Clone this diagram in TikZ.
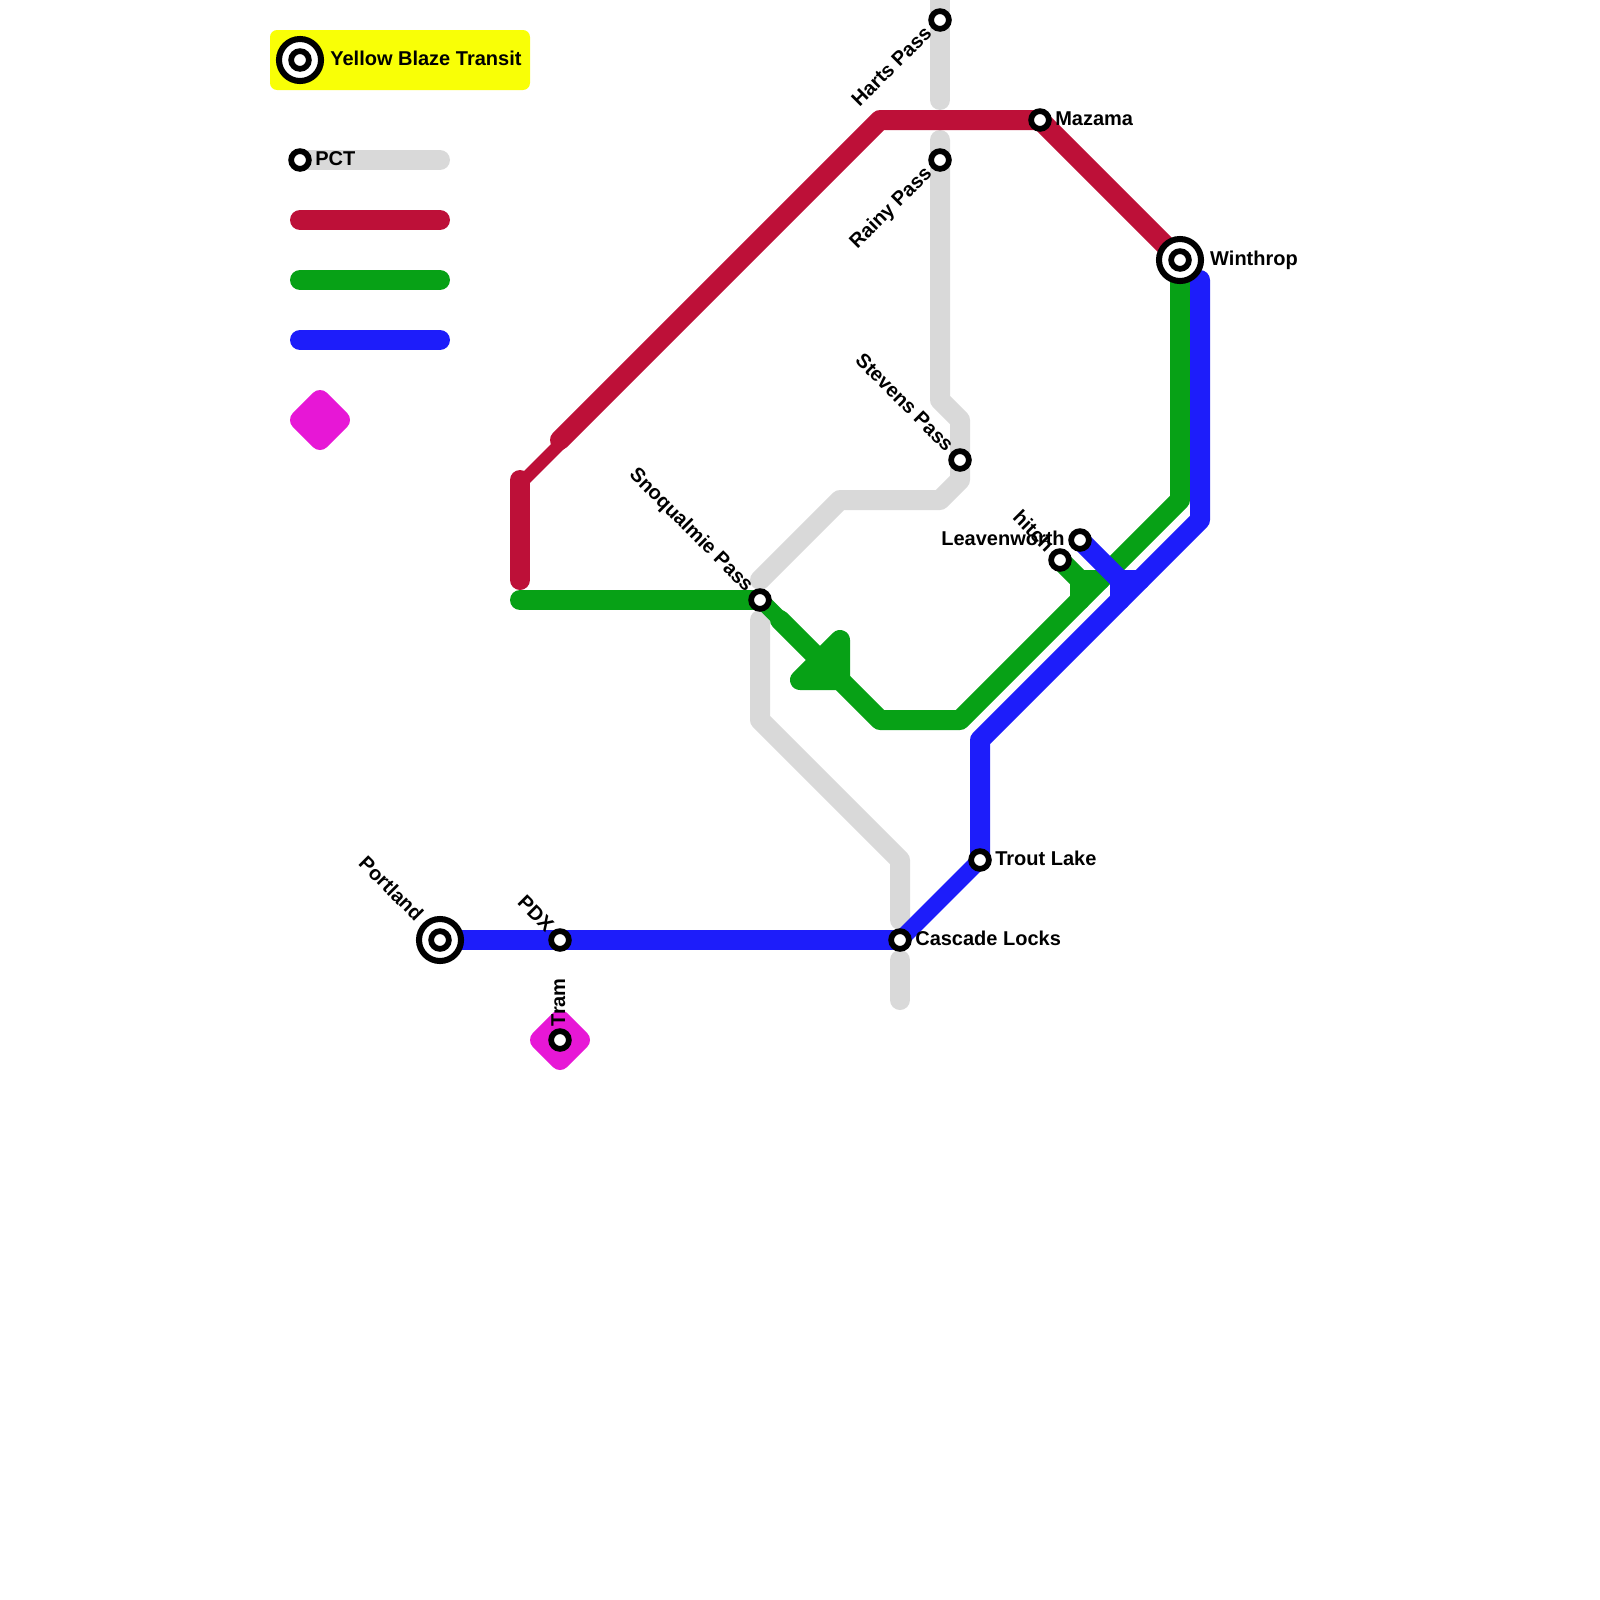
\documentclass[tikz,border=0pt]{standalone}
\usepackage{fontspec}
\setmainfont{Liberation Sans}
\definecolor{PCTgray}{HTML}{D9D9D9}
\definecolor{TransitRed}{HTML}{BD1038}
\definecolor{TransitGreen}{HTML}{07A116}
\definecolor{TransitBlue}{HTML}{1D1DFA}
\definecolor{TramPink}{HTML}{E717D6}
\definecolor{BlazeYellow}{HTML}{F9FF06}
\pgfdeclarelayer{front}
\pgfsetlayers{main,front}

\begin{document}
\begin{tikzpicture}[x=0.5cm, y=-0.5cm,
      route/.style={line width=14.22pt, line cap=round, line join=round},
      routethin/.style={line width=#1, line cap=round},
      zone/.style={route, fill},
      stop/.style={circle, draw=black, fill=white, line width=4.1pt, minimum size=12.6pt, inner sep=0pt},
      hub/.style={circle, draw=black, fill=white, line width=4.3pt, minimum size=29.9pt, inner sep=0pt},
      stoplabel/.style={font=\fontsize{14.22}{16}\selectfont\bfseries, inner sep=0pt},
      after/.style={stoplabel, anchor=base west, xshift=10.7pt, yshift=-3.6pt},
      before/.style={stoplabel, anchor=base east, xshift=-10.7pt, yshift=-3.6pt},
      afterhub/.style={stoplabel, anchor=base west, xshift=21.3pt, yshift=-3.6pt},
      beforehub/.style={stoplabel, anchor=base east, xshift=-21.3pt, yshift=-3.6pt}]
   \useasboundingbox (0,0) rectangle (80,80);

   % Stations sit above every route
   \begin{pgfonlayer}{front}
      \node[hub] (blazeouter) at (15,3) {};
      \node[stop] (blaze) at (15,3) {};
      \node[stop] (legendpct) at (15,8) {};
      \node[stop] (harts) at (47,1) {};
      \node[stop] (rainy) at (47,8) {};
      \node[stop] (mazama) at (52,6) {};
      \node[hub] (winthropouter) at (59,13) {};
      \node[stop] (winthrop) at (59,13) {};
      \node[stop] (stevens) at (48,23) {};
      \node[stop] (leavenworth) at (54,27) {};
      \node[stop] (hitch) at (53,28) {};
      \node[stop] (snoqualmie) at (38,30) {};
      \node[stop] (trout) at (49,43) {};
      \node[stop] (cascade) at (45,47) {};
      \node[hub] (portlandouter) at (22,47) {};
      \node[stop] (portland) at (22,47) {};
      \node[stop] (pdx) at (28,47) {};
      \node[stop] (tram) at (28,52) {};

      % Labels
      \node[after, xshift=10.7pt] (blazelabel) at (blaze.center) {Yellow Blaze Transit};
      \node[after] (pctlabel) at (legendpct.center) {PCT};
      \node[after] (mazamalabel) at (mazama.center) {Mazama};
      \node[afterhub] (winthroplabel) at (winthrop.center) {Winthrop};
      \node[after] (troutlabel) at (trout.center) {Trout Lake};
      \node[after] (cascadelabel) at (cascade.center) {Cascade Locks};
      \node[before] (leavenworthlabel) at (leavenworth.center) {Leavenworth};
      \node[rotate=45, before] (hartslabel) at (harts.center) {Harts Pass};
      \node[rotate=45, before] (rainylabel) at (rainy.center) {Rainy Pass};
      \node[rotate=-45, before] (stevenslabel) at (stevens.center) {Stevens Pass};
      \node[rotate=-45, before] (snoqualmielabel) at (snoqualmie.center) {Snoqualmie Pass};
      \node[rotate=-45, before] (hitchlabel) at (hitch.center) {hitch};
      \node[rotate=-45, before] (pdxlabel) at (pdx.center) {PDX};
      \node[rotate=-45, beforehub] (portlandlabel) at (portland.center) {Portland};
      \node[rotate=90, after, xshift=-1pt] (tramlabel) at (tram.center) {Tram};
   \end{pgfonlayer}

   % Legend
   \fill[BlazeYellow, rounded corners=5pt] (13.5,1.5) rectangle (26.5,4.5);
   \draw[route, PCTgray] (legendpct.center) -- (22,8);
   \draw[route, TransitRed] (15,11) -- (22,11);
   \draw[route, TransitGreen] (15,14) -- (22,14);
   \draw[route, TransitBlue] (15,17) -- (22,17);
   \draw[zone, TramPink] (16,20) -- (17,21) -- (16,22) -- (15,21) -- cycle;

   % Tram zone
   \draw[zone, TramPink] (tram.center) ++(0,-1) -- ++(1,1) -- ++(-1,1) -- ++(-1,-1) -- cycle;

   % PCT
   \draw[route, PCTgray] (47,0) -- (47,5);
   \draw[route, PCTgray] (47,7) -- (47,20) -- (48,21) -- (48,24) -- (47,25) -- (42,25) -- (38,29);
   \draw[route, PCTgray] (38,31) -- (38,36) -- (45,43) -- (45,46);
   \draw[route, PCTgray] (45,48) -- (45,50);

   % Red line
   \draw[route, TransitRed] (28,22) -- (44,6) -- (mazama.center) -- (winthrop.center);
   \draw[route, TransitRed] (26,29) -- (26,24);
   \draw[routethin=9pt, TransitRed] (26.1,24.1) -- (28.1,22.1);

   % Green line
   \draw[route, TransitGreen] (26,30) -- (snoqualmie.center);
   \draw[routethin=11.6pt, TransitGreen] (38.04,30) -- (39.04,31);
   \draw[route, TransitGreen] (39,31) -- (44,36) -- (48,36) -- (59,25) -- (winthrop.center);
   \draw[zone, TransitGreen] (42,32) -- (42,34) -- (40,34) -- cycle;
   \draw[route, TransitGreen] (hitch.center) -- (54,29) -- (54,30);
   \draw[route, TransitGreen] (54,29) -- (55,29);

   % Blue line
   \draw[route, TransitBlue] (portland.center) -- (cascade.center);
   \draw[routethin=12pt, TransitBlue] (cascade.center) -- (trout.center);
   \draw[route, TransitBlue] (trout.center) -- (49,37) -- (60,26) -- (60,14);
   \draw[route, TransitBlue] (leavenworth.center) -- (56,29) -- (56,30);
   \draw[route, TransitBlue] (56,29) -- (57,29);
\end{tikzpicture}
\end{document}
